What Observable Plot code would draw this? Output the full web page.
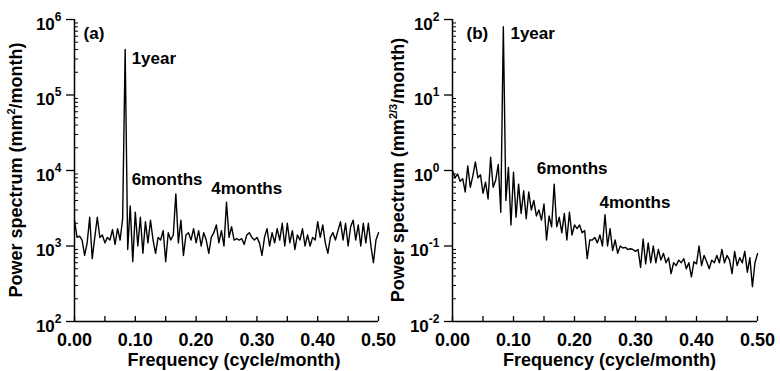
<!DOCTYPE html>
<html><head><meta charset="utf-8">
<script src="https://cdn.jsdelivr.net/npm/d3@7"></script>
<script src="https://cdn.jsdelivr.net/npm/@observablehq/plot@0.6"></script>
<style>
body{margin:0;background:#fff;}
#wrap{display:flex;width:780px;height:371px;}
#wrap svg{flex:none;}
</style></head><body><div id="wrap"></div>
<script>
// DFT frequency grid (cycle/month), 240-month record
const frequency = d3.range(0, 121).map(k => k / 240);

// Panel (a) power spectrum, mm^2/month
const powerA = [
  2200,1300,1350,1200,750,1100,2400,680,1300,2400,
  1300,1400,1100,1300,1200,1650,1050,1700,1200,2300,
  400000,900,3400,620,2800,1000,2400,800,2100,1100,
  2200,1200,800,1300,1200,1600,620,1500,1200,1400,
  4900,1100,2200,750,1400,1500,1200,1700,1100,1600,
  1000,1500,1200,800,1300,1500,1900,1100,1600,1000,
  3800,1300,1800,1200,1250,1200,1250,1050,1400,1500,
  1300,1200,1300,1100,750,1300,1700,1000,1500,1100,
  1700,1200,2000,1000,2000,1100,1600,900,1400,1200,
  1700,1000,1400,1000,1300,1200,2100,1300,1900,1100,
  800,1300,1500,1200,1600,2100,1200,2000,1000,1800,
  2200,1200,1900,1000,2000,1100,2000,1000,600,1200,
  1500
];

// Panel (b) power spectrum, mm^(2/3)/month
const powerB = [
  1.0,0.8,0.9,0.72,0.78,0.52,1.15,0.6,0.85,1.3,
  0.8,0.88,0.5,0.7,0.42,1.5,0.6,0.75,1.2,0.28,
  80,0.4,1.1,0.19,0.95,0.24,0.66,0.27,0.54,0.23,
  0.52,0.3,0.4,0.25,0.3,0.22,0.36,0.12,0.25,0.18,
  0.66,0.18,0.24,0.15,0.27,0.12,0.28,0.14,0.19,0.17,
  0.19,0.15,0.16,0.068,0.12,0.12,0.13,0.11,0.14,0.1,
  0.26,0.1,0.17,0.087,0.12,0.08,0.1,0.094,0.096,0.09,
  0.092,0.09,0.085,0.09,0.052,0.124,0.058,0.11,0.06,0.1,
  0.06,0.09,0.065,0.08,0.06,0.07,0.043,0.06,0.055,0.065,
  0.06,0.068,0.05,0.06,0.039,0.062,0.058,0.1,0.055,0.075,
  0.062,0.05,0.065,0.06,0.075,0.06,0.09,0.06,0.075,0.065,
  0.043,0.085,0.055,0.07,0.06,0.085,0.045,0.07,0.029,0.06,
  0.079
];

// Axis ticks
const xMajorTicks = [0,0.05,0.1,0.15,0.2,0.25,0.3,0.35,0.4,0.45,0.5];
const xTickLabels = [0,0.1,0.2,0.3,0.4,0.5];
const yMajorA = [1e2,1e3,1e4,1e5,1e6];
const yMajorB = [1e-2,1e-1,1e0,1e1,1e2];

// Annotations
const labelsA = [
  {f: 0.015, p: 6.5e5, text: "(a)"},
  {f: 0.094, p: 3.0e5, text: "1year"},
  {f: 0.094, p: 7.6e3, text: "6months"},
  {f: 0.225, p: 5.8e3, text: "4months"}
];
const labelsB = [
  {f: 0.023, p: 65, text: "(b)"},
  {f: 0.095, p: 65, text: "1year"},
  {f: 0.138, p: 1.06, text: "6months"},
  {f: 0.241, p: 0.38, text: "4months"}
];

const titleA = ["Power spectrum (mm", "2", "/month)"];
const titleB = ["Power spectrum (mm", "2/3", "/month)"];
const xTitle = "Frequency (cycle/month)";

function minorTicks(majors) {
  const out = [];
  for (let i = 0; i < majors.length - 1; i++)
    for (let m = 2; m <= 9; m++) out.push(majors[i] * m);
  return out;
}

function panel({power, yMajor, labels, title, marginLeft, marginRight, titleX, xTitleShift}) {
  const W = 390, H = 371, mt = 19, mb = 50;
  const innerW = W - marginLeft - marginRight, innerH = H - mt - mb;
  const data = frequency.map((f, i) => ({f, p: power[i]}));
  const svg = Plot.plot({
    width: W, height: H, marginLeft, marginRight, marginTop: mt, marginBottom: mb,
    style: {fontFamily: "'Liberation Sans', Arial, sans-serif", fontWeight: "bold", background: "transparent", color: "black", overflow: "visible"},
    x: {domain: [0, 0.5], label: null},
    y: {type: "log", domain: [yMajor[0], yMajor[yMajor.length - 1]], label: null},
    marks: [
      Plot.tickY(minorTicks(yMajor), {y: d => d, insetRight: innerW - 4, stroke: "black", strokeWidth: 1}),
      Plot.tickX(xMajorTicks, {x: d => d, insetTop: innerH - 5, stroke: "black", strokeWidth: 1.3}),
      Plot.axisY(yMajor, {anchor: "left", tickSize: 8, tickPadding: 5, strokeWidth: 1.3, fontSize: 17,
        tickFormat: d => "10^" + Math.round(Math.log10(d))}),
      Plot.axisX(xTickLabels, {anchor: "bottom", tickSize: 0, tickPadding: 12, fontSize: 18,
        tickFormat: d3.format(".2f")}),
      Plot.ruleX([0], {stroke: "black", strokeWidth: 1.5}),
      Plot.ruleY([yMajor[0]], {stroke: "black", strokeWidth: 1.5}),
      Plot.line(data, {x: "f", y: "p", stroke: "black", strokeWidth: 1.4, curve: "linear"}),
      Plot.text(labels, {x: "f", y: "p", text: "text", textAnchor: "start", fontSize: 17, fontWeight: "bold", fill: "black"})
    ]
  });
  const s = d3.select(svg);
  s.selectAll('g[aria-label="y-axis tick label"] text').each(function () {
    const t = d3.select(this);
    const [b, e] = t.text().split("^");
    t.text(null);
    t.append("tspan").attr("dy", 5).text(b);
    t.append("tspan").attr("dy", -9).attr("font-size", 12).text(e);
  });
  const yt = s.append("text")
    .attr("transform", `translate(${titleX},${mt + innerH / 2}) rotate(-90)`)
    .attr("text-anchor", "middle").attr("font-size", 18).attr("font-weight", "bold").attr("fill", "black");
  yt.append("tspan").text(title[0]);
  yt.append("tspan").attr("dy", -7).attr("font-size", 11).text(title[1]);
  yt.append("tspan").attr("dy", 7).text(title[2]);
  s.append("text")
    .attr("x", marginLeft + innerW / 2 + xTitleShift).attr("y", 366)
    .attr("text-anchor", "middle").attr("font-size", 18).attr("font-weight", "bold").attr("fill", "black")
    .text(xTitle);
  return svg;
}

const wrap = document.getElementById("wrap");
wrap.appendChild(panel({power: powerA, yMajor: yMajorA, labels: labelsA, title: titleA, marginLeft: 74, marginRight: 12, titleX: 22, xTitleShift: 8}));
wrap.appendChild(panel({power: powerB, yMajor: yMajorB, labels: labelsB, title: titleB, marginLeft: 62, marginRight: 23, titleX: 14, xTitleShift: 5}));
</script></body></html>
